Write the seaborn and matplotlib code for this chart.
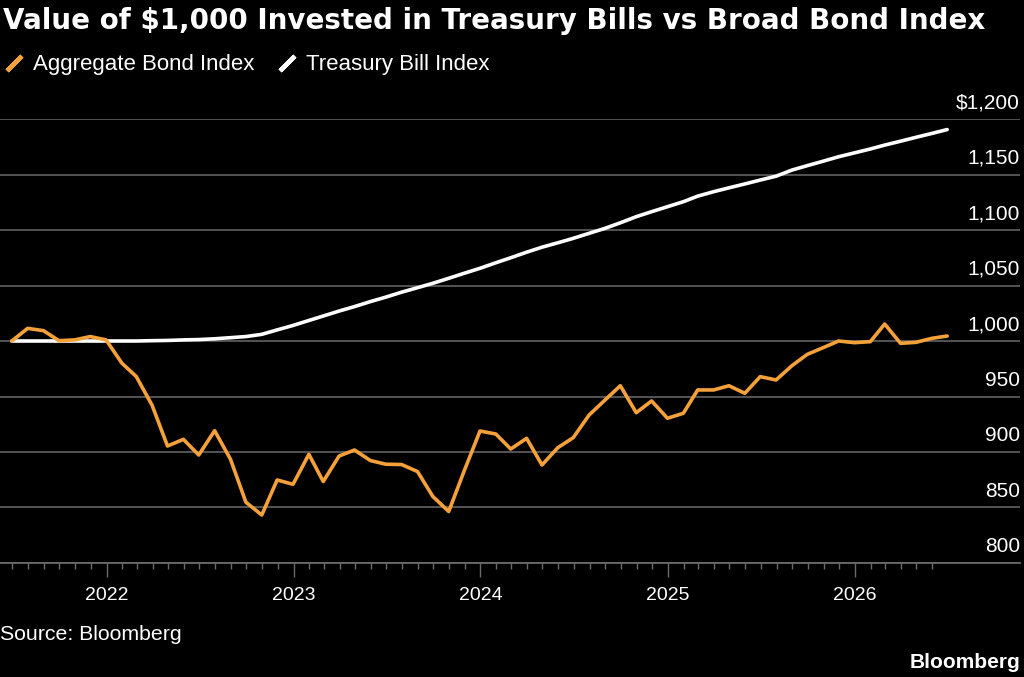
import pandas as pd
import seaborn as sns
import matplotlib.pyplot as plt
import matplotlib.dates as mdates
from matplotlib.lines import Line2D
from matplotlib.ticker import FixedLocator


# monthly values, Jun 2021 .. Jun 2026 (month ends)
dates = pd.date_range("2021-06-30", "2026-06-30", freq="ME")

bond = [1000, 1011.4, 1009.3, 1000.3, 1001, 1004, 1001, 980, 968, 942,
        905.4, 911.4, 897.3, 919.2, 893.4, 854.8, 843.2, 874.8, 870.9, 897.9,
        873.4, 896.4, 901.8, 892.3, 889, 888.7, 882.4, 859.9, 846.4, 882.8,
        918.9, 916.2, 902.7, 912.3, 888.3, 903.9, 912.9, 933.3, 946.8, 959.7,
        935.4, 946, 930.4, 934.9, 955.9, 955.9, 959.7, 952.9, 967.9, 964.9,
        977.8, 988, 994, 1000, 998.5, 999.4, 1015.3, 997.9, 998.8, 1002.4,
        1004.5]

tbill = [1000, 1000, 1000, 1000, 1000, 1000, 1000, 1000, 1000, 1000.3,
         1000.5, 1001, 1001.3, 1002, 1003, 1004, 1006, 1010, 1014, 1018.5,
         1022.5, 1027, 1031, 1035.5, 1039.5, 1044, 1048, 1052, 1056.5, 1061,
         1065.5, 1070.5, 1075, 1080, 1084.5, 1088.5, 1092.5, 1097, 1101.5, 1106.5,
         1112, 1116.5, 1121, 1125.5, 1130.5, 1134.5, 1138, 1141.5, 1145, 1148.5,
         1154, 1158, 1162, 1166, 1169.5, 1173, 1176.5, 1180, 1183.5, 1187,
         1190.5]

series_names = ["Treasury Bill Index", "Aggregate Bond Index"]
colors = {"Aggregate Bond Index": "#f5a13a", "Treasury Bill Index": "#ffffff"}

y_ticks = [800, 850, 900, 950, 1000, 1050, 1100, 1150, 1200]
y_labels = ["800", "850", "900", "950", "1,000", "1,050", "1,100", "1,150", "$1,200"]
year_ticks = pd.to_datetime(["2022-01-01", "2023-01-01", "2024-01-01", "2025-01-01", "2026-01-01"])
month_ticks = pd.date_range("2021-07-01", "2026-06-01", freq="MS")

df = pd.DataFrame({
    "date": list(dates) * 2,
    "value": tbill + bond,
    "series": [series_names[0]] * len(dates) + [series_names[1]] * len(dates),
})

sns.set_style("dark")
plt.rcParams["font.family"] = ["Liberation Sans", "DejaVu Sans"]
plt.rcParams["text.color"] = "white"

fig = plt.figure(figsize=(10.24, 6.77), dpi=100, facecolor="black")
ax = fig.add_axes([0, 0.1684, 0.996, 0.6558])
ax.set_facecolor("black")

sns.lineplot(data=df, x="date", y="value", hue="series", hue_order=series_names,
             palette=colors, linewidth=2.6, ax=ax, legend=False)

ax.set_xlim(pd.Timestamp("2021-06-07"), pd.Timestamp("2026-11-19"))
ax.set_ylim(800, 1200)
ax.set_xlabel("")
ax.set_ylabel("")

for s in ["top", "left", "right"]:
    ax.spines[s].set_visible(False)
ax.spines["bottom"].set_color("#6a6a6a")
ax.spines["bottom"].set_linewidth(1.3)

# y grid + labels sitting above the lines on the right
ax.set_yticks(y_ticks)
ax.yaxis.grid(True, color="#5a5a5a", linewidth=1.3)
ax.xaxis.grid(False)
ax.tick_params(axis="y", length=0, labelleft=False, labelright=False)
for v, lab in zip(y_ticks, y_labels):
    ax.annotate(lab, xy=(1, v), xycoords=("axes fraction", "data"),
                xytext=(0, 5), textcoords="offset points",
                ha="right", va="bottom", color="white", fontsize=15)

# x axis: years + monthly minor ticks
ax.xaxis.set_major_locator(FixedLocator(mdates.date2num(year_ticks)))
ax.xaxis.set_major_formatter(mdates.DateFormatter("%Y"))
ax.xaxis.set_minor_locator(FixedLocator(mdates.date2num(month_ticks)))
ax.tick_params(axis="x", which="major", length=10, width=1, color="#6a6a6a",
               labelcolor="white", labelsize=14, pad=7, bottom=True)
ax.tick_params(axis="x", which="minor", length=4, width=1, color="#6a6a6a", bottom=True)

fig.text(0.003, 0.99, "Value of $1,000 Invested in Treasury Bills vs Broad Bond Index",
         fontsize=20, fontweight="bold", family="DejaVu Sans", color="white", va="top")

handles = [Line2D([], [], linestyle="none", marker=(2, 2, -45), markersize=15,
                  markeredgewidth=3.2, markeredgecolor=colors[n])
           for n in ["Aggregate Bond Index", "Treasury Bill Index"]]
fig.legend(handles, ["Aggregate Bond Index", "Treasury Bill Index"],
           loc="center left", bbox_to_anchor=(-0.017, 0.904), ncol=2, frameon=False,
           fontsize=16, labelcolor="white", handlelength=1.0, handletextpad=0.35,
           columnspacing=1.0)

fig.text(0.0, 0.0635, "Source: Bloomberg", fontsize=15.3, color="white", va="center")
fig.text(0.996, 0.022, "Bloomberg", fontsize=15, fontweight="bold", color="white",
         ha="right", va="center")

fig.savefig("out.png", dpi=100, facecolor="black")
